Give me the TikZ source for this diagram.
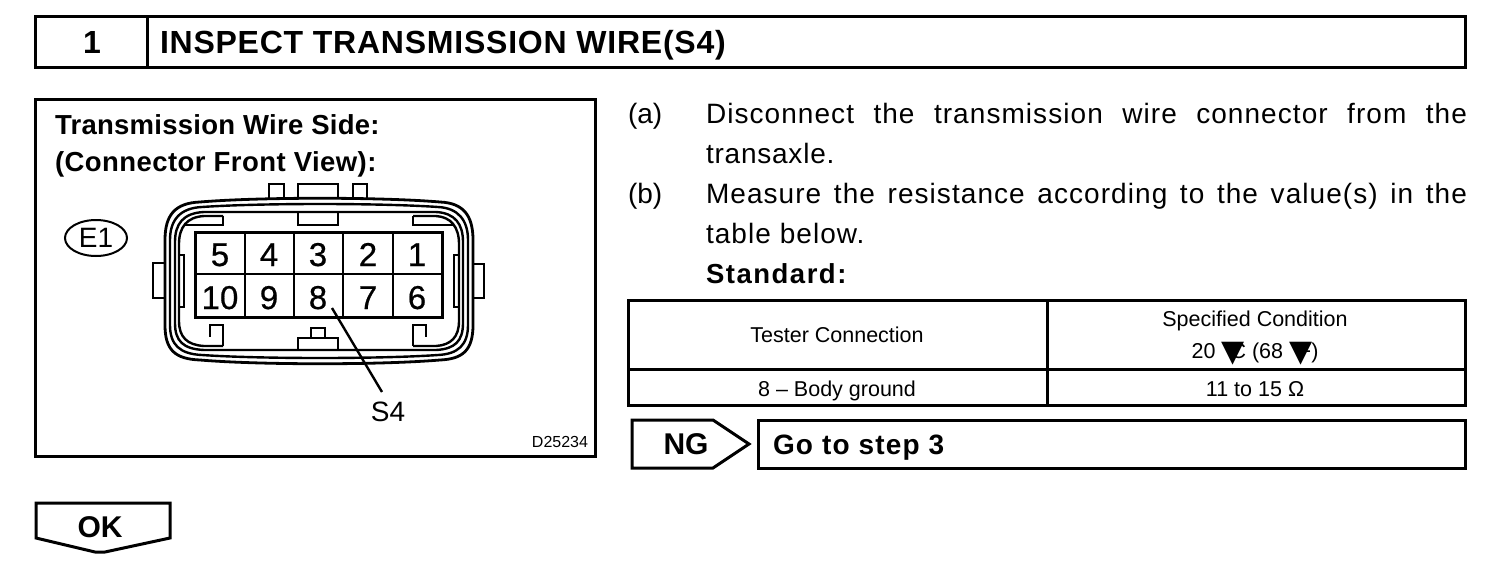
\documentclass[tikz,border=0pt]{standalone}
\usetikzlibrary{shapes.geometric}
\usepackage{fontspec}
\setmainfont{Liberation Sans}
\newfontfamily\symf{DejaVu Sans}
\newcommand{\fs}[1]{\fontsize{#1}{#1}\selectfont}
\newcommand{\ls}[1]{\addfontfeature{LetterSpace=#1}}
\newcommand{\tridown}{{\fs{30}\symf\raisebox{-3pt}{▼}\kern-14pt}}
\tikzset{
  frame/.style={draw=black,line width=3pt,line join=miter},
  part/.style={draw=black,line width=2.4pt},
  txt/.style={inner sep=0pt,outer sep=0pt,anchor=base west},
  ctr/.style={inner sep=0pt,outer sep=0pt,anchor=base},
  head/.style={txt,font=\fs{32}\bfseries\ls{2.4}},
  lab/.style={txt,font=\fs{27.5}\bfseries\ls{1.0}},
  body/.style={txt,font=\fs{28}\ls{3.8}},
  tabtxt/.style={ctr,font=\fs{21.5}},
  pin/.style={ctr,font=\fs{33}\addfontfeature{FakeBold=0.6}},
}
\begin{document}
\begin{tikzpicture}[x=1pt,y=-1pt]
\useasboundingbox (0,0) rectangle (1504,568);
% header
\draw[frame] (35,16) rectangle (1465.5,67);
\draw[frame] (147,16) -- (147,67);
\node[ctr,font=\fs{32}\bfseries] (stepno) at (92,53) {1};
\node[head] (title) at (160,53) {INSPECT TRANSMISSION WIRE(S4)};
% left box
\draw[frame] (35,99) rectangle (595.5,456);
\node[lab] (l1) at (55,134) {Transmission Wire Side:};
\node[lab,font=\fs{27.5}\bfseries\ls{1.6}] (l2) at (55,171) {(Connector Front View):};
\node[ellipse,draw,line width=2pt,inner sep=0pt,minimum width=62pt,minimum height=36pt,font=\fs{28}] (e1) at (96,238) {E1};
% connector shell
\draw[part,line width=2.8pt] (165,240) .. controls (165,215) and (175,203) .. (200,202) .. controls (260,197) and (380,197) .. (440,202) .. controls (463,203) and (473,215) .. (473,240) -- (473,325) .. controls (473,350) and (463,359) .. (440,360) .. controls (380,365) and (260,365) .. (200,360) .. controls (175,359) and (165,350) .. (165,325) -- cycle;
\draw[part] (170,240) .. controls (170,220) and (180,208) .. (202,207) .. controls (260,203) and (380,203) .. (438,207) .. controls (458,208) and (468,220) .. (468,240) -- (468,325) .. controls (468,345) and (458,354) .. (438,355) .. controls (380,359) and (260,359) .. (202,355) .. controls (180,354) and (170,345) .. (170,325) -- cycle;
\draw[part] (175,242) .. controls (175,224) and (183,213) .. (204,212) -- (436,212) .. controls (455,213) and (463,224) .. (463,242) -- (463,323) .. controls (463,341) and (455,349) .. (436,350) -- (204,350) .. controls (183,349) and (175,341) .. (175,323) -- cycle;
\draw[part] (223,216) -- (204,216) .. controls (187,217) and (179,227) .. (179,244) -- (179,321) .. controls (179,337) and (187,345) .. (204,346) -- (223,346);
\draw[part] (413,216) -- (436,216) .. controls (451,217) and (459,227) .. (459,244) -- (459,321) .. controls (459,337) and (451,345) .. (436,346) -- (413,346);
% tabs
\draw[part] (269,199) -- (269,184) -- (284,184) -- (284,199);
\draw[part] (298,198) -- (298,184) -- (338,184) -- (338,198);
\draw[part] (353,199) -- (353,184) -- (367,184) -- (367,199);
\draw[part] (165,263) -- (153,263) -- (153,298) -- (165,298);
\draw[part] (473,264) -- (484,264) -- (484,298) -- (473,298);
\draw[part] (298,212) -- (298,225) -- (338,225) -- (338,212);
\draw[part] (223,216) -- (223,225) -- (184,225);
\draw[part] (413,216) -- (413,225) -- (454,225);
\draw[part] (179,255) -- (184,255) -- (184,307) -- (179,307);
\draw[part] (459,255) -- (454,255) -- (454,307) -- (459,307);
\draw[part] (223,346) -- (223,325) -- (210,325) -- (210,337);
\draw[part] (413,346) -- (413,325) -- (426,325) -- (426,337);
\draw[part] (298,350) -- (298,338) -- (338,338) -- (338,350);
\draw[part] (311,338) -- (311,328) -- (325,328) -- (325,338);
% pin grid
\draw[part,line width=3pt] (195,232) rectangle (442,317);
\draw[part] (195,274) -- (442,274);
\foreach \gx in {245,294,343,393} \draw[part] (\gx,232) -- (\gx,317);
\node[pin] (p5) at (220,266) {5};
\node[pin] (p4) at (269,266) {4};
\node[pin] (p3) at (318,266) {3};
\node[pin] (p2) at (368,266) {2};
\node[pin] (p1) at (417,266) {1};
\node[pin] (p10) at (220,309) {10};
\node[pin] (p9) at (269,309) {9};
\node[pin] (p8) at (318,309) {8};
\node[pin] (p7) at (368,309) {7};
\node[pin] (p6) at (417,309) {6};
\coordinate (leadstart) at (332,308);
\coordinate (leadend) at (382,392);
\draw[part] (leadstart) -- (leadend);
\node[ctr,font=\fs{28}] (s4) at (388,421) {S4};
\node[ctr,font=\fs{16}] (code) at (560,447) {D25234};
% instructions
\node[txt,font=\fs{28}] (a) at (628,123) {(a)};
\node[txt,font=\fs{28}\ls{3.8}] (atxt) at (706,123) {\hbox to 761pt{Disconnect\hfill the\hfill transmission\hfill wire\hfill connector\hfill from\hfill the}};
\node[body,font=\fs{28}\ls{2.8}] (atxt2) at (706,163) {transaxle.};
\node[txt,font=\fs{28}] (b) at (628,203) {(b)};
\node[txt,font=\fs{28}\ls{3.8}] (btxt) at (706,203) {\hbox to 761pt{Measure\hfill the\hfill resistance\hfill according\hfill to\hfill the\hfill value(s)\hfill in\hfill the}};
\node[body] (btxt2) at (706,243) {table below.};
\node[lab,font=\fs{27.5}\bfseries\ls{5.5}] (std) at (706,283) {Standard:};
% table
\draw[frame] (628,300) rectangle (1465.5,405);
\draw[frame] (628,369) -- (1465.5,369);
\draw[frame] (1047,300) -- (1047,405);
\node[tabtxt] (t1) at (837,342) {Tester Connection};
\node[tabtxt] (t2) at (1255,326) {Specified Condition};
\node[tabtxt] (t3) at (1255,358) {20 \tridown C (68 \tridown F)};
\node[tabtxt] (t4) at (837,396) {8 – Body ground};
\node[tabtxt] (t5) at (1255,396) {11 to 15 Ω};
% NG
\draw[frame] (632,420) -- (713,420) -- (749,444) -- (713,468) -- (632,468) -- cycle;
\node[ctr,font=\fs{30}\bfseries] (ng) at (686,454) {NG};
\draw[frame] (758,420) rectangle (1465.5,468);
\node[txt,font=\fs{28}\bfseries\ls{4.2}] (go) at (773,454) {Go to step 3};
% OK
\draw[frame] (36,503) -- (170,503) -- (170,538) -- (105,552) -- (95,552) -- (36,538) -- cycle;
\node[ctr,font=\fs{30}\bfseries] (ok) at (100,537) {OK};
\end{tikzpicture}
\end{document}
